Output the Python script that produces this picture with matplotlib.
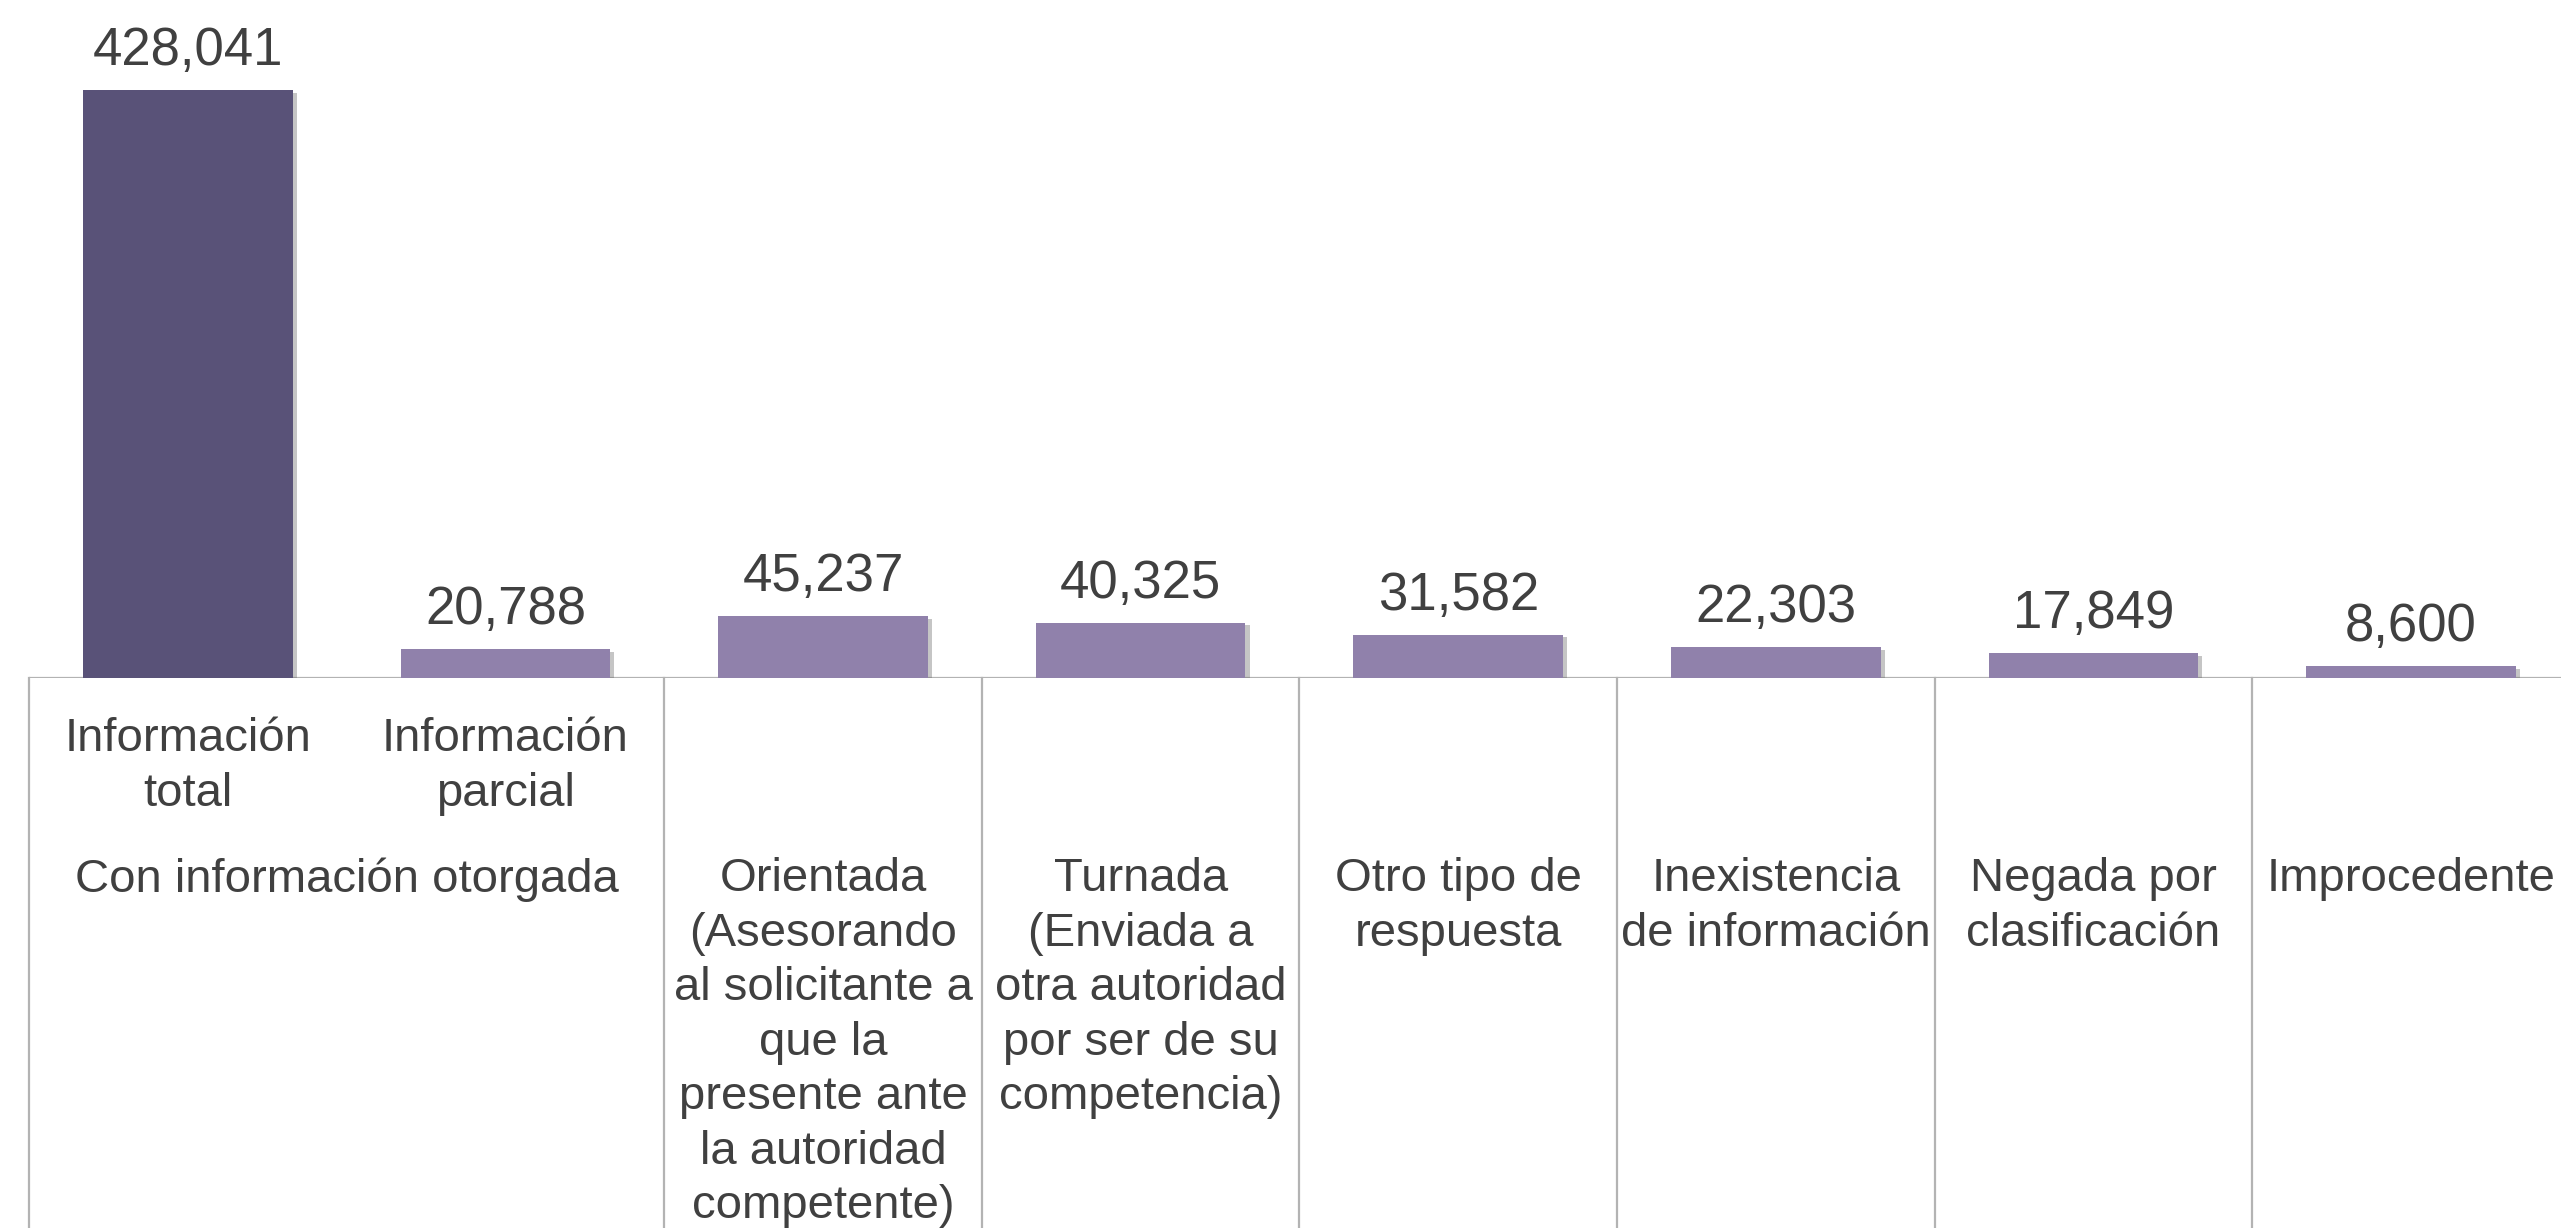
import matplotlib
matplotlib.use("Agg")
import matplotlib.pyplot as plt
import matplotlib.patheffects as pe
from matplotlib.transforms import blended_transform_factory
from matplotlib.lines import Line2D

plt.rcParams['font.family'] = ['Liberation Sans', 'DejaVu Sans']

# ---- data ----
categories = [
    "Información\ntotal",
    "Información\nparcial",
    "", "", "", "", "", "",
]
groups = [
    "Con información otorgada",
    "Orientada\n(Asesorando\nal solicitante a\nque la\npresente ante\nla autoridad\ncompetente)",
    "Turnada\n(Enviada a\notra autoridad\npor ser de su\ncompetencia)",
    "Otro tipo de\nrespuesta",
    "Inexistencia\nde información",
    "Negada por\nclasificación",
    "Improcedente",
]
group_spans = [2, 1, 1, 1, 1, 1, 1]
values = [428041, 20788, 45237, 40325, 31582, 22303, 17849, 8600]

# ---- style ----
W, H = 2561, 1228
DPI = 100
text_color = "#404040"
line_color = "#B3B3B3"
dark = "#595278"
light = "#9081AB"
bar_colors = [dark] + [light] * (len(values) - 1)

fig = plt.figure(figsize=(W / DPI, H / DPI), dpi=DPI)
baseline_px = 678
left_px = 29
cat_w_px = 317.6
ax_w_px = cat_w_px * len(values)
ymax = 500000
ax_h_px = 588 * ymax / values[0]
ax = fig.add_axes([left_px / W, 1 - baseline_px / H, ax_w_px / W, ax_h_px / H])
ax.set_xlim(-0.5, len(values) - 0.5)
ax.set_ylim(0, ymax)
ax.axis("off")

x = list(range(len(values)))
bars = ax.bar(x, values, width=0.66, color=bar_colors, zorder=3)
for b in bars:
    b.set_path_effects([
        pe.SimplePatchShadow(offset=(3, -2), shadow_rgbFace="#6f6f6f", alpha=0.4),
        pe.Normal(),
    ])

for xi, v in zip(x, values):
    ax.annotate(f"{v:,}", (xi, v), xytext=(0, 18), textcoords="offset points",
                ha="center", va="baseline", fontsize=38, color=text_color)

# baseline
ax.axhline(0, color=line_color, lw=1.6, zorder=2, xmin=0, xmax=1)

trans = blended_transform_factory(ax.transData, fig.transFigure)
y_base = 1 - baseline_px / H

# separator lines between groups
bounds = [-0.5]
pos = -0.5
for s in group_spans:
    pos += s
    bounds.append(pos)
for bx in bounds:
    fig.add_artist(Line2D([bx, bx], [0, y_base], transform=trans,
                          color=line_color, lw=1.6, clip_on=False))

# level-1 (inner) labels
y1 = 1 - 717 / H
for xi, c in zip(x, categories):
    if c:
        fig.text(xi, y1, c, transform=trans, ha="center", va="top",
                 fontsize=34, color=text_color, linespacing=1.31)

# level-2 (outer) labels
y2 = 1 - 857 / H
start = 0
for g, s in zip(groups, group_spans):
    cx = start + (s - 1) / 2
    fig.text(cx, y2, g, transform=trans, ha="center", va="top",
             fontsize=34, color=text_color, linespacing=1.31)
    start += s

fig.savefig("out.png", dpi=DPI, facecolor="white")
